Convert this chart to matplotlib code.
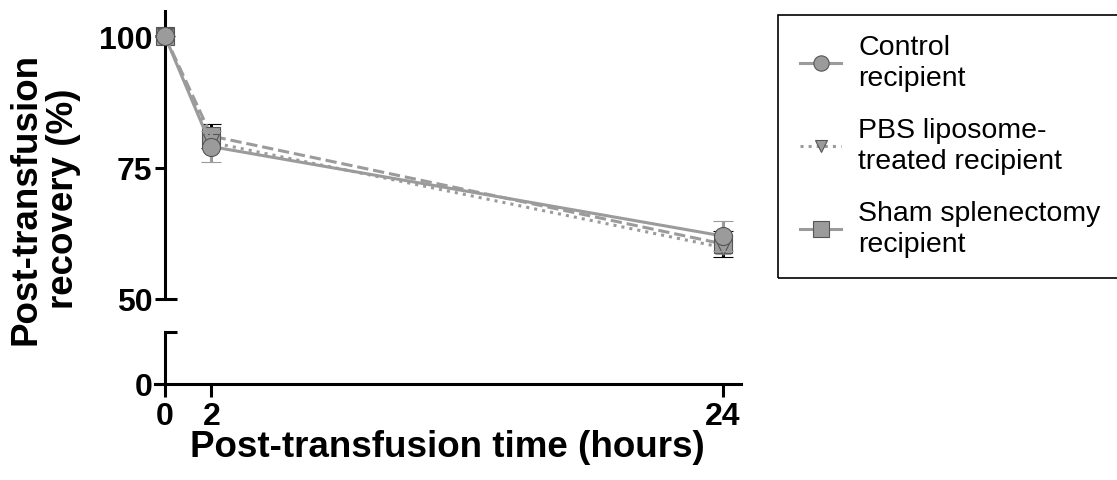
import numpy as np
import matplotlib
matplotlib.use("Agg")
import matplotlib.pyplot as plt
from matplotlib.lines import Line2D
from matplotlib.patches import Rectangle

plt.rcParams['font.family'] = ['Liberation Sans', 'DejaVu Sans']

# data
hours = [0, 2, 24]
groups = ["Control\nrecipient", "PBS liposome-\ntreated recipient", "Sham splenectomy\nrecipient"]
control_mean = [100, 79.0, 62.0]
control_err = [0, 3.0, 2.8]
pbs_mean = [100, 79.8, 59.8]
pbs_err = [0, 1.2, 1.2]
sham_mean = [100, 81.0, 60.5]
sham_err = [0, 2.3, 2.5]

x_ticks = [0, 2, 24]
y_ticks_top = [50, 75, 100]

gray = "#9b9b9b"
edge = "#555555"
lw = 2.2

fig = plt.figure(figsize=(11.17, 4.81), dpi=100)
W, H = 1117.0, 481.0
x_left, x_right = -0.45, 24.8
px_per_h = 23.23
ax_l = 165 - 0.45 * px_per_h
ax_w = (x_right - x_left) * px_per_h

ax_top = fig.add_axes([ax_l / W, (H - 300) / H, ax_w / W, 288 / H])
ax_bot = fig.add_axes([ax_l / W, (H - 385) / H, ax_w / W, 52 / H])

for ax in (ax_top, ax_bot):
    ax.set_xlim(x_left, x_right)
    ax.spines['right'].set_visible(False)
    ax.spines['top'].set_visible(False)
    ax.spines['left'].set_position(('data', 0))
    ax.spines['left'].set_linewidth(lw)
    ax.spines['bottom'].set_linewidth(lw)
    ax.tick_params(width=lw, length=7, labelsize=23, pad=2)
    ax.patch.set_alpha(0)

# upper segment
ax_top.set_ylim(50, 104.8)
ax_top.spines['bottom'].set_visible(False)
ax_top.set_xticks([])
ax_top.set_yticks(y_ticks_top)
ax_top.set_yticklabels([str(v) for v in y_ticks_top], fontweight='bold')
ax_top.plot([0, 0.5], [50, 50], color='k', lw=lw, clip_on=False, solid_capstyle='butt')

# lower segment
ax_bot.set_ylim(0, 10)
ax_bot.set_yticks([0])
ax_bot.set_yticklabels(['0'], fontweight='bold')
ax_bot.set_xticks(x_ticks)
ax_bot.set_xticklabels([str(v) for v in x_ticks], fontweight='bold')
ax_bot.tick_params(axis='x', length=9, pad=3)
ax_bot.plot([-0.05, 0.5], [10, 10], color='k', lw=lw, clip_on=False, solid_capstyle='butt')

# series
ax_top.errorbar(hours, sham_mean, yerr=sham_err, color=gray, lw=lw, ls='--',
                marker='s', ms=13, mfc=gray, mec=edge, mew=0.8,
                ecolor='black', elinewidth=lw, capsize=7, capthick=3.5, zorder=3, clip_on=False)
ax_top.errorbar(hours, pbs_mean, yerr=pbs_err, color=gray, lw=lw, ls=':',
                marker='v', ms=11, mfc=gray, mec=edge, mew=0.8,
                ecolor=gray, elinewidth=lw, capsize=6, capthick=3, zorder=4, clip_on=False)
ax_top.errorbar(hours, control_mean, yerr=control_err, color=gray, lw=lw, ls='-',
                marker='o', ms=13, mfc=gray, mec=edge, mew=0.8,
                ecolor=gray, elinewidth=lw, capsize=7, capthick=3, zorder=5, clip_on=False)

ax_top.set_ylabel("Post-transfusion\nrecovery (%)", fontsize=26.5, fontweight='bold', linespacing=1.1)
ax_top.yaxis.set_label_coords(-0.125, 0.35)
ax_bot.set_xlabel("Post-transfusion time (hours)", fontsize=26.5, fontweight='bold', labelpad=-1)

# legend box (runs off the right edge like the original)
fig.patches.append(Rectangle((778 / W, 1 - 279 / H), 360 / W, 263 / H, transform=fig.transFigure,
                             fill=False, edgecolor='black', lw=1.2))

handles = [
    Line2D([], [], color=gray, lw=lw, ls='-', marker='o', ms=11, mfc=gray, mec=edge, mew=0.8),
    Line2D([], [], color=gray, lw=lw, ls=':', marker='v', ms=9, mfc=gray, mec=edge, mew=0.8),
    Line2D([], [], color=gray, lw=lw, ls='-', marker='s', ms=11, mfc=gray, mec=edge, mew=0.8),
]
leg = fig.legend(handles, groups, loc='upper left', bbox_to_anchor=(800 / W, 1 - 35 / H),
                 borderaxespad=0, fontsize=20.5, frameon=False,
                 handlelength=1.45, labelspacing=0.92,
                 borderpad=0, handletextpad=0.6)
for t in leg.get_texts():
    t.set_linespacing(1.25)

fig.savefig("out.png", dpi=100)
